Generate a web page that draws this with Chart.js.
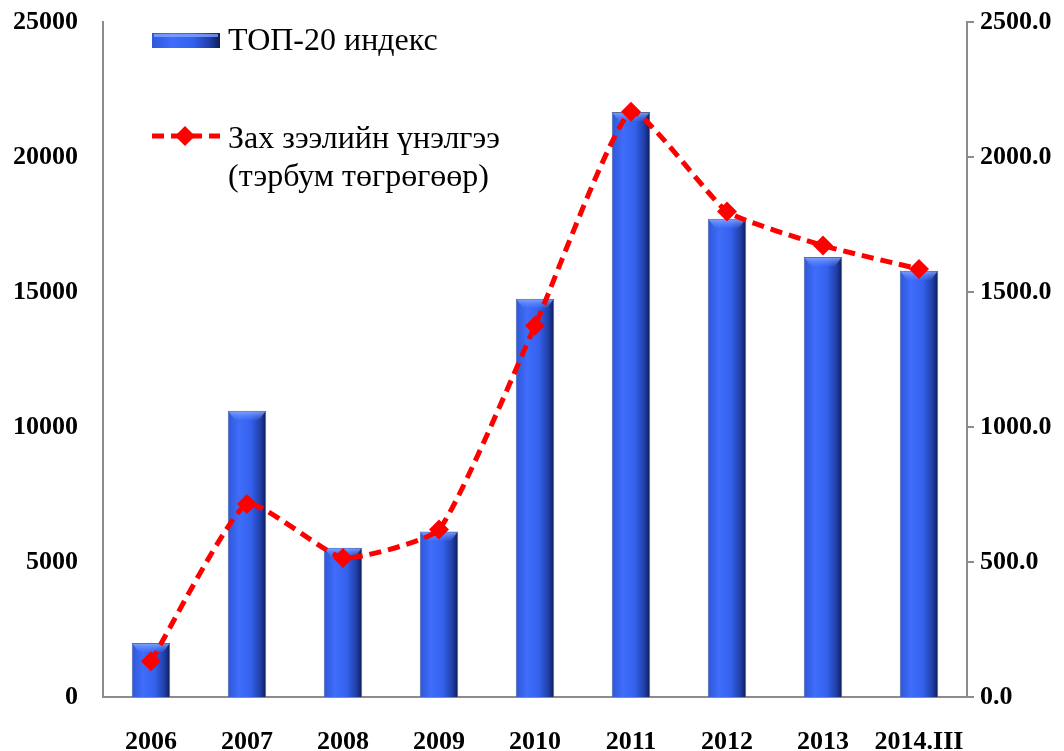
<!DOCTYPE html>
<html lang="mn">
<head>
<meta charset="UTF-8">
<title>ТОП-20 индекс ба зах зээлийн үнэлгээ</title>
<script src="https://cdn.jsdelivr.net/npm/chart.js"></script>
<style>
  body { margin: 0; background: #fff; }
  #wrap { width: 1064px; height: 751px; }
</style>
</head>
<body>
<div id="wrap"><canvas id="chart" width="1064" height="751"></canvas></div>
<script>
// data
const years = ['2006', '2007', '2008', '2009', '2010', '2011', '2012', '2013', '2014.III'];
const top20Index = [2000, 10600, 5530, 6130, 14750, 21670, 17710, 16300, 15790];
const marketCap = [132, 715, 515, 620, 1375, 2168, 1798, 1672, 1585];
const legendBar = ['ТОП-20 индекс'];
const legendLine = ['Зах зээлийн үнэлгээ', '(тэрбум төгрөгөөр)'];

const SERIF = '"Liberation Serif", "Times New Roman", serif';

function barGradient(c, left, right) {
  const g = c.createLinearGradient(left, 0, right, 0);
  g.addColorStop(0, '#2f58d8');
  g.addColorStop(0.3, '#3f6dfb');
  g.addColorStop(0.6, '#3462ee');
  g.addColorStop(0.85, '#1f3ea8');
  g.addColorStop(1, '#0f1d55');
  return g;
}

// shaded, bevelled look on top of each bar element
const bevel = {
  id: 'bevel',
  afterDatasetDraw(chart, args) {
    if (args.index !== 0) return;
    const c = chart.ctx;
    args.meta.data.forEach(el => {
      const l = el.x - el.width / 2, r = el.x + el.width / 2, t = el.y, b = el.base, d = 9;
      if (![l, r, t, b].every(Number.isFinite)) return;
      c.save();
      c.fillStyle = barGradient(c, l, r);
      c.fillRect(l + 1, t + 1, r - l - 2, b - t - 1);
      const g = c.createLinearGradient(0, t, 0, t + d);
      g.addColorStop(0, 'rgba(140,175,255,0.9)');
      g.addColorStop(1, 'rgba(90,130,255,0.2)');
      c.fillStyle = g;
      c.beginPath();
      c.moveTo(l + 1, t + 1);
      c.lineTo(r - 1, t + 1);
      c.lineTo(r - 7, t + d);
      c.lineTo(l + 7, t + d);
      c.closePath();
      c.fill();
      c.restore();
    });
  }
};

// legend drawn inside the plot, top-left
const innerLegend = {
  id: 'innerLegend',
  afterDraw(chart) {
    const c = chart.ctx;
    c.save();
    c.font = '32px ' + SERIF;
    c.textBaseline = 'middle';
    // bar entry
    c.fillStyle = barGradient(c, 152, 220);
    c.fillRect(152, 33, 68, 15);
    c.fillStyle = 'rgba(140,175,255,0.7)';
    c.fillRect(154, 34, 64, 3);
    c.fillStyle = '#000';
    legendBar.forEach((t, i) => c.fillText(t, 228, 42 + i * 38));
    // line entry
    c.strokeStyle = '#ff0000';
    c.lineWidth = 5;
    c.setLineDash([12, 7]);
    c.beginPath();
    c.moveTo(152, 136);
    c.lineTo(220, 136);
    c.stroke();
    c.setLineDash([]);
    c.fillStyle = '#ff0000';
    c.beginPath();
    c.moveTo(185, 126);
    c.lineTo(195, 136);
    c.lineTo(185, 146);
    c.lineTo(175, 136);
    c.closePath();
    c.fill();
    c.fillStyle = '#000';
    legendLine.forEach((t, i) => c.fillText(t, 228, 140 + i * 38));
    c.restore();
  }
};

const tickFont = { family: SERIF, size: 26, weight: 'bold' };

function fitSide(width) {
  return s => { s.width = width; s.paddingTop = 0; s.paddingBottom = 0; };
}

new Chart(document.getElementById('chart'), {
  data: {
    labels: years,
    datasets: [
      {
        type: 'bar',
        label: legendBar.join(' '),
        data: top20Index,
        yAxisID: 'y',
        backgroundColor: '#3462ee',
        borderColor: '#5a6f9c',
        borderWidth: 1,
        barPercentage: 0.8,
        categoryPercentage: 0.5,
        order: 1
      },
      {
        type: 'line',
        label: legendLine.join(' '),
        data: marketCap,
        yAxisID: 'y1',
        borderColor: '#ff0000',
        backgroundColor: '#ff0000',
        borderWidth: 5,
        borderDash: [12, 7],
        tension: 0.15,
        pointStyle: 'rectRot',
        pointRadius: 10,
        pointBorderWidth: 0,
        order: 0
      }
    ]
  },
  options: {
    responsive: false,
    animation: false,
    layout: { padding: { top: 22, left: 0, right: 0, bottom: 0 } },
    plugins: { legend: { display: false }, tooltip: { enabled: false } },
    scales: {
      x: {
        grid: { display: false },
        border: { display: true, color: '#8c8c8c', width: 2 },
        ticks: { color: '#000', font: tickFont, padding: 22, maxRotation: 0, autoSkip: false },
        afterFit(s) { s.height = 54; s.paddingLeft = 0; s.paddingRight = 0; }
      },
      y: {
        position: 'left',
        min: 0, max: 25000,
        grid: { display: false },
        border: { display: true, color: '#8c8c8c', width: 2 },
        ticks: { stepSize: 5000, color: '#000', font: tickFont, padding: 17, callback: v => String(v) },
        afterFit: fitSide(103)
      },
      y1: {
        position: 'right',
        min: 0, max: 2500,
        grid: { drawOnChartArea: false, drawTicks: true, tickLength: 7, color: '#8c8c8c', lineWidth: 2 },
        border: { display: true, color: '#8c8c8c', width: 2 },
        ticks: { stepSize: 500, color: '#000', font: tickFont, padding: 6, callback: v => v.toFixed(1) },
        afterFit: fitSide(97)
      }
    }
  },
  plugins: [bevel, innerLegend]
});
</script>
</body>
</html>
